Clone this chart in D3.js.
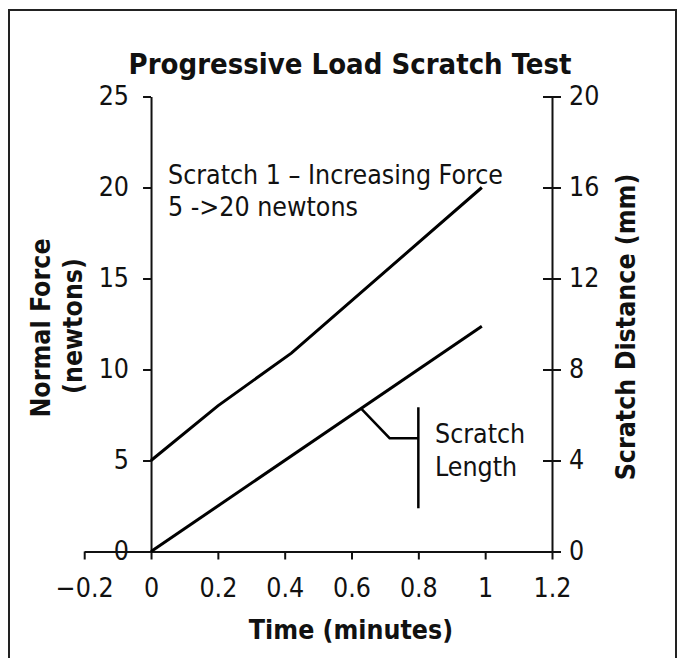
<!DOCTYPE html>
<html>
<head>
<meta charset="utf-8">
<script src="https://cdn.jsdelivr.net/npm/d3@7"></script>
<style>
  html, body { margin: 0; padding: 0; background: #fff; }
  svg text { font-family: "DejaVu Sans Condensed", "DejaVu Sans", sans-serif; font-stretch: condensed; fill: #111; }
</style>
</head>
<body>
<svg id="chart" width="681" height="658"></svg>
<script>
// ---- data ----
const timeTicks = [-0.2, 0, 0.2, 0.4, 0.6, 0.8, 1, 1.2];
const forceTicks = [0, 5, 10, 15, 20, 25];
const distanceTicks = [0, 4, 8, 12, 16, 20];

// Normal force (newtons) vs time (minutes)
const forceTime = [0, 0.2, 0.42, 0.99];
const forceValues = [5, 8, 10.9, 20];

// Scratch distance (mm) vs time (minutes)
const distTime = [0, 0.99];
const distValues = [0, 9.9];

// "Scratch Length" bracket, in (time, mm) units
const bracketTime = [0.629, 0.714, 0.8];
const bracketDist = [6.28, 4.98, 4.98];
const barTime = [0.8, 0.8];
const barDist = [6.34, 1.9];

// ---- layout ----
const svg = d3.select("#chart");
svg.append("rect").attr("width", 681).attr("height", 658).attr("fill", "#fff");
svg.append("rect").attr("x", 9).attr("y", 10).attr("width", 667).attr("height", 700)
  .attr("fill", "none").attr("stroke", "#222").attr("stroke-width", 2);

const x = d3.scaleLinear().domain([-0.2, 1.2]).range([84.2, 552]);
const yL = d3.scaleLinear().domain([0, 25]).range([551.5, 96.5]);
const yR = d3.scaleLinear().domain([0, 20]).range([551.5, 96.5]);

const fs = 26.5;
const fsB = 26.5;

// X axis
const gx = svg.append("g").attr("transform", `translate(0,${yL(0)})`)
  .call(d3.axisBottom(x).tickValues(timeTicks).tickFormat(d3.format("")).tickSize(8).tickSizeOuter(0).tickPadding(19));
// Left axis at time 0
const gl = svg.append("g").attr("transform", `translate(${x(0)},0)`)
  .call(d3.axisLeft(yL).tickValues(forceTicks).tickSize(8).tickSizeOuter(0).tickPadding(14));
// Right axis at 1.2
const gr = svg.append("g").attr("transform", `translate(${x(1.2)},0)`)
  .call(d3.axisRight(yR).tickValues(distanceTicks).tickSize(9).tickSizeOuter(0).tickPadding(8));
gr.selectAll(".tick line").attr("x1", -9);

[gx, gl, gr].forEach(g => {
  g.select(".domain").attr("stroke", "#111").attr("stroke-width", 2);
  g.selectAll(".tick line").attr("stroke", "#111").attr("stroke-width", 2);
  g.selectAll(".tick text").attr("font-size", fs).attr("fill", "#111")
    .style("font-family", '"DejaVu Sans Condensed", "DejaVu Sans", sans-serif');
});

// Lines
const lineL = d3.line().x(d => x(d[0])).y(d => yL(d[1]));
const lineR = d3.line().x(d => x(d[0])).y(d => yR(d[1]));

svg.append("path").datum(forceTime.map((t, i) => [t, forceValues[i]]))
  .attr("d", lineL).attr("fill", "none").attr("stroke", "#000").attr("stroke-width", 3);
svg.append("path").datum(distTime.map((t, i) => [t, distValues[i]]))
  .attr("d", lineR).attr("fill", "none").attr("stroke", "#000").attr("stroke-width", 3);

// Bracket annotation
svg.append("path").datum(bracketTime.map((t, i) => [t, bracketDist[i]]))
  .attr("d", lineR).attr("fill", "none").attr("stroke", "#000").attr("stroke-width", 2.5);
svg.append("path").datum(barTime.map((t, i) => [t, barDist[i]]))
  .attr("d", lineR).attr("fill", "none").attr("stroke", "#000").attr("stroke-width", 2.5);

// Texts
svg.append("text").attr("x", 350).attr("y", 74).attr("text-anchor", "middle")
  .attr("font-size", 29).attr("font-weight", "bold").text("Progressive Load Scratch Test");

svg.append("text").attr("x", 168).attr("y", 184).attr("font-size", fs)
  .text("Scratch 1 – Increasing Force");
svg.append("text").attr("x", 168).attr("y", 216).attr("font-size", fs)
  .text("5 ->20 newtons");

svg.append("text").attr("x", 435).attr("y", 443).attr("font-size", fs).text("Scratch");
svg.append("text").attr("x", 435).attr("y", 476).attr("font-size", fs).text("Length");

svg.append("text").attr("transform", "translate(50,328) rotate(-90)").attr("text-anchor", "middle")
  .attr("font-size", fsB).attr("font-weight", "bold").text("Normal Force");
svg.append("text").attr("transform", "translate(82,326) rotate(-90)").attr("text-anchor", "middle")
  .attr("font-size", fsB).attr("font-weight", "bold").text("(newtons)");
svg.append("text").attr("transform", "translate(635,327) rotate(-90)").attr("text-anchor", "middle")
  .attr("font-size", fsB).attr("font-weight", "bold").text("Scratch Distance (mm)");
svg.append("text").attr("x", 351).attr("y", 639).attr("text-anchor", "middle")
  .attr("font-size", fsB).attr("font-weight", "bold").text("Time (minutes)");
</script>
</body>
</html>
